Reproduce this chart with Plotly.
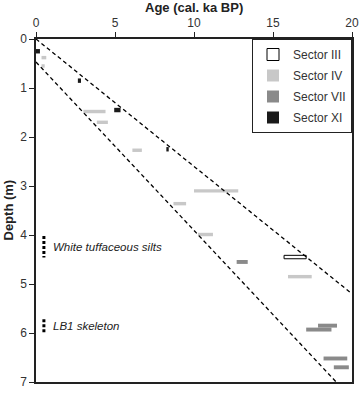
import plotly.graph_objects as go

# ---- data ----
sector_iii_start = [15.7]
sector_iii_end = [17.1]
sector_iii_depth = [4.45]

sector_iv_start = [0.35, 0.35, 3.0, 3.85, 6.1, 8.7, 10.0, 10.25, 15.95]
sector_iv_end = [0.65, 0.55, 4.4, 4.55, 6.7, 9.5, 12.8, 11.2, 17.45]
sector_iv_depth = [0.38, 0.55, 1.48, 1.70, 2.27, 3.36, 3.10, 3.99, 4.85]

sector_vii_start = [12.7, 17.1, 17.85, 18.2, 18.85]
sector_vii_end = [13.4, 18.7, 19.05, 19.7, 19.8]
sector_vii_depth = [4.55, 5.93, 5.85, 6.52, 6.70]

sector_xi_start = [0.0, 2.65, 4.95, 8.25]
sector_xi_end = [0.25, 2.85, 5.35, 8.4]
sector_xi_depth = [0.25, 0.85, 1.45, 2.25]

# age-depth envelope (dashed lines)
upper_age = [0, 20]
upper_depth = [0, 5.2]
lower_age = [0, 19.0]
lower_depth = [0.47, 7.0]

# stratigraphic units
unit_names = ["White tuffaceous silts", "LB1 skeleton"]
unit_top = [4.02, 5.72]
unit_bottom = [4.46, 6.0]
unit_marker_age = 0.5

x_ticks = [0, 5, 10, 15, 20]
y_ticks = [0, 1, 2, 3, 4, 5, 6, 7]

FONT = "Liberation Sans, Arial, sans-serif"
fig = go.Figure()


def add_sector(name, starts, ends, depths, fill, line_color, line_w, thick):
    fig.add_trace(go.Bar(
        name=name,
        orientation="h",
        y=depths,
        x=[e - s for s, e in zip(starts, ends)],
        base=starts,
        width=thick,
        marker=dict(color=fill, line=dict(color=line_color, width=line_w)),
        legendgroup=name,
    ))


add_sector("Sector III", sector_iii_start, sector_iii_end, sector_iii_depth,
           "white", "black", 1, 0.07)
add_sector("Sector IV", sector_iv_start, sector_iv_end, sector_iv_depth,
           "#c8c8c8", "#c8c8c8", 0, 0.07)
add_sector("Sector VII", sector_vii_start, sector_vii_end, sector_vii_depth,
           "#8a8a8a", "#8a8a8a", 0, 0.08)
add_sector("Sector XI", sector_xi_start, sector_xi_end, sector_xi_depth,
           "#1a1a1a", "#1a1a1a", 0, 0.09)

for ax, dp in [(upper_age, upper_depth), (lower_age, lower_depth)]:
    fig.add_trace(go.Scatter(x=ax, y=dp, mode="lines", showlegend=False,
                             line=dict(color="black", width=1.3, dash="4px,3px"),
                             hoverinfo="skip"))

for name, top, bot in zip(unit_names, unit_top, unit_bottom):
    fig.add_trace(go.Scatter(x=[unit_marker_age, unit_marker_age], y=[top, bot],
                             mode="lines", showlegend=False,
                             line=dict(color="black", width=3, dash="3px,2px"),
                             hoverinfo="skip"))
    fig.add_annotation(x=unit_marker_age + 0.45, y=(top + bot) / 2, text=f"<i>{name}</i>",
                       showarrow=False, xanchor="left", yanchor="middle",
                       font=dict(family=FONT, size=11.5, color="#222"))

fig.add_annotation(x=0.5, y=1, xref="paper", yref="paper", yshift=32,
                   text="<b>Age (cal. ka BP)</b>", showarrow=False,
                   xanchor="center", yanchor="middle",
                   font=dict(family=FONT, size=13, color="#222"))
fig.add_annotation(x=0, y=0.5, xref="paper", yref="paper", xshift=-28,
                   text="<b>Depth (m)</b>", showarrow=False, textangle=-90,
                   xanchor="center", yanchor="middle",
                   font=dict(family=FONT, size=13, color="#222"))

fig.update_layout(
    width=359, height=396,
    margin=dict(l=36, r=7, t=39, b=14, autoexpand=False),
    paper_bgcolor="white", plot_bgcolor="white",
    font=dict(family=FONT, size=12, color="#333"),
    barmode="overlay",
    legend=dict(x=1, y=1, xanchor="right", yanchor="top",
                bordercolor="#222", borderwidth=1, bgcolor="white",
                font=dict(family=FONT, size=12, color="#333"),
                tracegroupgap=2),
    xaxis=dict(side="top", range=[0, 20], tickvals=x_ticks, ticks="outside",
               ticklen=5, tickcolor="#222", showline=True, linecolor="#222",
               linewidth=1.5, mirror=True, showgrid=False, zeroline=False,
               automargin=False, tickfont=dict(size=12)),
    yaxis=dict(range=[7.0001, -0.0001], tickvals=y_ticks, ticks="outside", ticklen=5,
               tickcolor="#222", showline=True, linecolor="#222", linewidth=1.5,
               mirror=True, showgrid=False, zeroline=False, automargin=False,
               tickfont=dict(size=12)),
)

fig.write_html("out.html",
               config={"displayModeBar": False},
               post_script="document.body.style.margin='0';")
